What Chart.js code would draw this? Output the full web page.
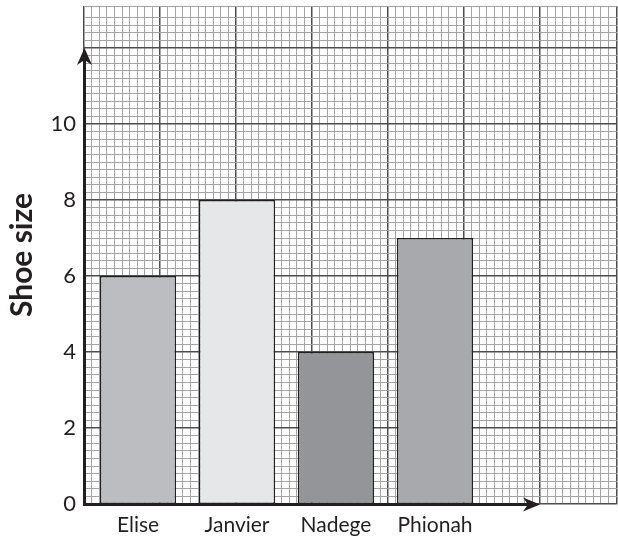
<!DOCTYPE html>
<html>
<head>
<meta charset="utf-8">
<script src="https://cdn.jsdelivr.net/npm/chart.js@4.4.1/dist/chart.umd.min.js"></script>
<style>
  html, body { margin: 0; padding: 0; background: #ffffff; }
  #box { width: 618px; height: 544px; }
</style>
</head>
<body>
<div id="box"><canvas id="grafico" width="618" height="544"></canvas></div>
<script>
// dati del grafico
var nomi = ["Elise", "Janvier", "Nadege", "Phionah"];
var numeriScarpe = [6, 8, 4, 7];
var coloriBarre = ["#bcbdc0", "#e6e7e8", "#939598", "#a7a9ac"];
var etichetteY = [0, 2, 4, 6, 8, 10];

var nero = "#231f20";
var fontBase = "Lato, 'Open Sans', sans-serif";

// assi neri con le frecce (usa le scale del grafico)
var frecce = {
    id: "frecce",
    afterDatasetsDraw: function (chart) {
        var c = chart.ctx;
        var ys = chart.scales.y;
        var gx = chart.scales.gx;
        var x0 = gx.getPixelForValue(0);
        var y0 = ys.getPixelForValue(0);
        var yTop = ys.getPixelForValue(12);
        var xEnd = gx.getPixelForValue(60);

        c.save();
        c.strokeStyle = nero;
        c.fillStyle = nero;
        c.lineWidth = 3;
        c.beginPath();
        c.moveTo(x0 + 0.5, y0 + 1);
        c.lineTo(x0 + 0.5, yTop + 10);
        c.stroke();
        c.beginPath();
        c.moveTo(x0 - 1, y0 + 0.5);
        c.lineTo(xEnd - 10, y0 + 0.5);
        c.stroke();

        // punta asse y
        c.beginPath();
        c.moveTo(x0 + 0.5, yTop);
        c.lineTo(x0 + 8, yTop + 17);
        c.lineTo(x0 + 0.5, yTop + 12);
        c.lineTo(x0 - 7, yTop + 17);
        c.closePath();
        c.fill();

        // punta asse x
        c.beginPath();
        c.moveTo(xEnd, y0 + 0.5);
        c.lineTo(xEnd - 17, y0 + 7.5);
        c.lineTo(xEnd - 12, y0 + 0.5);
        c.lineTo(xEnd - 17, y0 - 6.5);
        c.closePath();
        c.fill();
        c.restore();
    }
};

function principale(ctx) {
    return ctx.tick && Math.round(ctx.tick.value) % 10 === 0;
}
function coloreGriglia(ctx) {
    return principale(ctx) ? "#4d4d4f" : "#a3a3a5";
}
function spessoreGriglia(ctx) {
    return principale(ctx) ? 1.5 : 1;
}
function senzaPadding(s) {
    s.paddingTop = 0;
    s.paddingBottom = 0;
    s.paddingLeft = 0;
    s.paddingRight = 0;
}

var punti = [];
for (var i = 0; i < nomi.length; i++) {
    punti.push({ x: i, y: numeriScarpe[i] });
}

var ctx = document.getElementById("grafico");
var grafico = new Chart(ctx, {
    type: "bar",
    data: {
        datasets: [{
            label: "Shoe size",
            data: punti,
            backgroundColor: coloriBarre,
            borderColor: nero,
            borderWidth: 1.5,
            borderSkipped: false,
            categoryPercentage: 1,
            barPercentage: 0.77
        }]
    },
    options: {
        responsive: false,
        animation: false,
        layout: { padding: { top: 6, right: 1, left: 0, bottom: 0 } },
        plugins: {
            legend: { display: false },
            tooltip: { enabled: false }
        },
        scales: {
            x: {
                type: "linear",
                position: "bottom",
                offset: false,
                min: -0.5455,
                max: 4.838,
                grid: { display: false, drawTicks: false, offset: false },
                border: { display: false },
                ticks: {
                    stepSize: 1,
                    includeBounds: false,
                    autoSkip: false,
                    maxRotation: 0,
                    padding: 9,
                    color: nero,
                    font: { family: fontBase, size: 21 },
                    callback: function (v) { return nomi[v]; }
                },
                afterBuildTicks: function (s) {
                    s.ticks = s.ticks.filter(function (t) { return t.value >= 0 && t.value < nomi.length; });
                },
                afterFit: function (s) { s.height = 40; senzaPadding(s); }
            },
            y: {
                type: "linear",
                position: "left",
                min: 0,
                max: 13.105,
                grid: { display: false, drawTicks: false },
                border: { display: false },
                ticks: {
                    stepSize: 2,
                    includeBounds: false,
                    padding: 8,
                    color: nero,
                    font: { family: fontBase, size: 22 }
                },
                afterBuildTicks: function (s) {
                    s.ticks = s.ticks.filter(function (t) { return etichetteY.indexOf(t.value) >= 0; });
                },
                title: {
                    display: true,
                    text: "Shoe size",
                    color: nero,
                    padding: { top: 4, bottom: 0 },
                    font: { family: fontBase, size: 30, weight: "bold" }
                },
                afterFit: function (s) { s.width = 84; senzaPadding(s); }
            },
            gx: {
                type: "linear",
                position: "top",
                offset: false,
                min: 0,
                max: 70.13,
                grid: { color: coloreGriglia, lineWidth: spessoreGriglia, drawTicks: false, offset: false },
                border: { display: false },
                ticks: { display: false, stepSize: 1, autoSkip: false },
                afterFit: function (s) { s.height = 0; senzaPadding(s); }
            },
            gy: {
                type: "linear",
                position: "right",
                min: 0,
                max: 65.53,
                grid: { color: coloreGriglia, lineWidth: spessoreGriglia, drawTicks: false },
                border: { display: false },
                ticks: { display: false, stepSize: 1, autoSkip: false },
                afterFit: function (s) { s.width = 0; senzaPadding(s); }
            }
        }
    },
    plugins: [frecce]
});
</script>
</body>
</html>
